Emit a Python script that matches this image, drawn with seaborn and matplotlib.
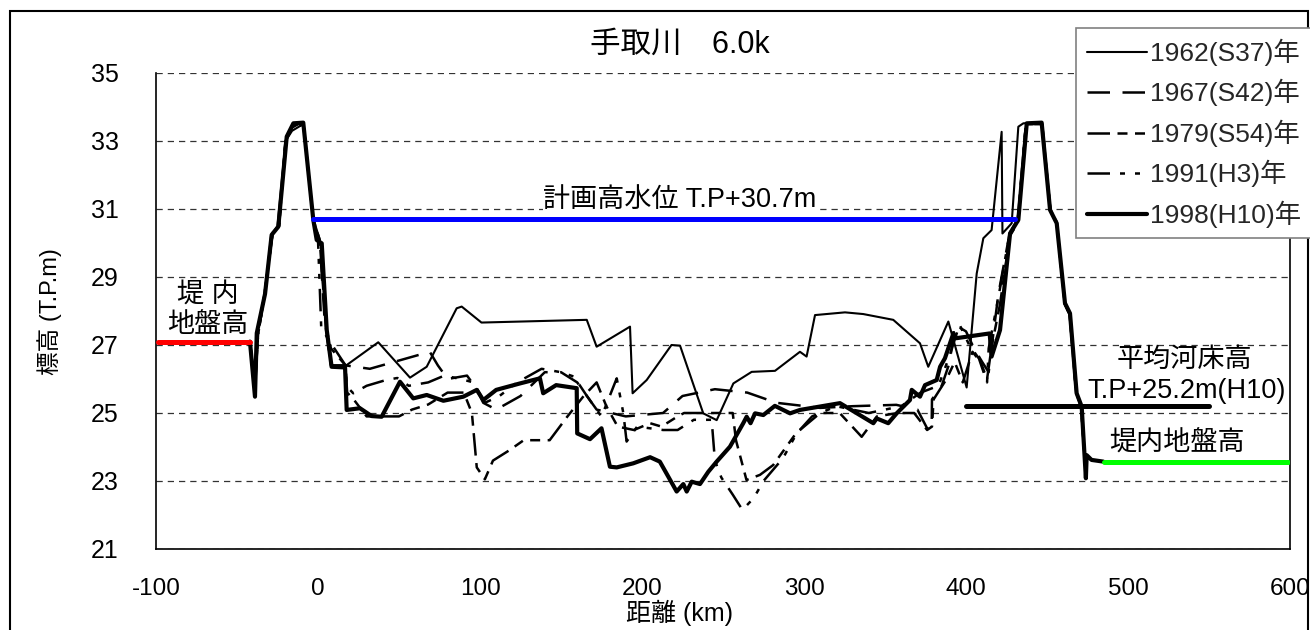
import matplotlib
matplotlib.use('Agg')
import matplotlib.pyplot as plt
import seaborn as sns
import pandas as pd
from matplotlib.patches import Rectangle

# ---------------- data ----------------
title = '手取川　6.0k'
xlabel = '距離 (km)'
ylabel = '標高 (T.P.m)'
x_ticks = [-100, 0, 100, 200, 300, 400, 500, 600]
y_ticks = [21, 23, 25, 27, 29, 31, 33, 35]

labels = ['1962(S37)年', '1967(S42)年', '1979(S54)年', '1991(H3)年', '1998(H10)年']

x_1962 = [-42, -39, -38, -33, -29, -25, -20, -16, -9, -3, 0, 2, 5, 8, 17, 17.7, 37.2, 56.8, 67.1, 85.6,
          88.7, 100.9, 165.9, 172, 192.6, 194.2, 202.9, 218.2, 223.5, 237.8, 246.1, 256.4, 267.7, 282.1,
          297.5, 301.6, 306.8, 325.3, 336.6, 355.1, 371.6, 376.7, 389.1, 400.4, 406.6, 410.7, 415.8, 422,
          422.5, 428.2, 432.3, 435.4, 446.7, 451.9, 456, 461.1, 464.2, 468.3, 471.4, 474]
y_1962 = [27.1, 25.6, 27.3, 28.4, 30.2, 30.5, 33.0, 33.3, 33.5, 30.7, 30.1, 30.0, 27.6, 26.4, 26.4, 26.41,
          27.08, 26.04, 26.36, 28.08, 28.13, 27.66, 27.74, 26.95, 27.54, 25.58, 25.97, 27.0, 26.98, 24.99,
          24.79, 25.87, 26.21, 26.24, 26.80, 26.66, 27.88, 27.96, 27.91, 27.74, 27.05, 26.36, 27.69, 25.75,
          29.1, 30.14, 30.38, 33.27, 30.28, 30.58, 33.42, 33.52, 33.54, 30.97, 30.58, 28.23, 27.93, 25.58,
          25.19, 23.1]

x_1967 = [-42, -39, -37, -33, -28, -24, -20, -17, -13, -9, -3, 1, 4, 8, 17, 32, 69, 74, 80, 92,
          98, 102, 110, 125, 140, 150, 160, 172, 190, 213, 225, 245, 265, 283, 310, 330, 357, 370, 376,
          378.8, 379, 385, 390, 393, 400, 405, 410, 414, 416, 420, 427, 432, 437, 447, 452, 456, 461, 464,
          468, 471, 474]
y_1967 = [27.1, 25.8, 27.3, 28.5, 30.3, 30.5, 33.0, 33.3, 33.4, 33.5, 30.7, 30.1, 27.8, 26.4, 26.4, 26.3,
          26.8, 26.4, 26.0, 26.1, 25.7, 25.3, 25.1, 25.5, 26.2, 26.2, 25.9, 25.1, 24.9, 25.0, 25.5, 25.7,
          25.6, 25.3, 25.15, 25.2, 25.24, 25.1, 24.55, 24.55, 25.4, 25.8, 26.5, 27.6, 27.4, 26.9, 26.5,
          26.2, 27.0, 28.5, 30.3, 30.7, 33.5, 33.5, 31.0, 30.6, 28.2, 27.9, 25.6, 25.2, 23.2]

x_1979 = [-42, -39, -37, -33, -28, -24, -20, -16, -12, -9, -3, 1, 5, 8, 17, 18, 22, 30, 40, 50,
          58, 68, 80, 90, 95, 98, 103, 108, 118, 127, 143, 154, 164, 172, 178, 185, 195, 205, 212, 222,
          226, 256, 258, 264.5, 272.8, 281, 295, 310, 322, 335.6, 345, 358, 368, 376, 379, 380, 388, 393,
          398, 404, 409, 413, 416, 421, 427, 432, 437, 447, 452, 456, 461, 464, 468, 471, 474]
y_1979 = [27.1, 25.7, 27.3, 28.5, 30.3, 30.5, 33.1, 33.4, 33.5, 33.5, 30.7, 30.1, 27.5, 26.9, 26.4, 25.6,
          25.4, 24.9, 24.9, 24.9, 25.1, 25.25, 25.6, 25.6, 25.0, 23.4, 23.05, 23.6, 23.9, 24.2, 24.2, 24.9,
          25.5, 25.9, 25.2, 24.6, 24.5, 24.7, 24.6, 24.9, 25.0, 25.0, 24.2, 23.03, 23.18, 23.47, 24.4, 25.0,
          25.0, 24.3, 24.9, 25.0, 25.0, 24.5, 24.6, 25.4, 26.0, 26.5, 25.9, 26.8, 26.5, 26.0, 27.0, 28.2,
          30.2, 30.6, 33.5, 33.5, 31.0, 30.6, 28.2, 27.9, 25.6, 25.2, 23.2]

x_1991 = [-42, -39, -37, -33, -28, -24, -20, -16, -12, -9, -3, 0, 2, 8, 17, 17.7, 21.8, 30, 42, 49,
          56, 68, 78, 88, 96, 103, 112, 123, 138, 150, 158, 166, 175, 184.4, 188.5, 190.5, 197, 213, 222,
          232, 243, 245, 249, 256, 262, 269, 275, 287, 295.5, 305, 320, 340, 360, 372, 383, 390, 396, 402,
          408, 413, 414, 420, 427, 432, 437, 447, 452, 456, 461, 464, 468, 471, 474]
y_1991 = [27.1, 25.6, 27.3, 28.5, 30.3, 30.5, 33.0, 33.4, 33.5, 33.5, 30.7, 30.1, 27.5, 27.05, 26.4,
          25.78, 25.58, 25.8, 25.97, 26.03, 25.8, 25.9, 26.1, 26.0, 25.9, 25.3, 25.5, 25.9, 26.3, 26.2,
          26.07, 25.5, 24.89, 26.02, 24.99, 24.16, 24.6, 24.5, 24.5, 24.8, 24.8, 23.6, 23.1, 22.6, 22.15,
          22.5, 23.0, 23.67, 24.4, 24.9, 25.2, 25.0, 25.2, 25.6, 25.8, 26.7, 27.6, 27.0, 26.6, 25.9, 26.9,
          28.4, 30.3, 30.7, 33.5, 33.5, 31.0, 30.6, 28.2, 27.9, 25.6, 25.2, 23.2]

x_1998 = [-42, -38.9, -37.8, -32.7, -28.6, -24.5, -19.3, -15.2, -9.1, -2.9, -0.8, 2.3, 5.4, 8.4, 16.7,
          17.7, 25.9, 33.1, 39.3, 50.6, 58.8, 67.1, 77.4, 89.7, 98, 102, 110, 124.7, 137, 139, 147, 159.7,
          160, 167.9, 175, 180.2, 184.4, 194.6, 205, 211, 221.4, 225.5, 227.6, 230.7, 235.8, 240.9, 246.1,
          254.3, 262.5, 264.6, 267, 269.8, 274.9, 282, 291.4, 297.5, 322.2, 342.8, 344.9, 352, 357.2,
          365.4, 366.5, 371.6, 374.7, 381.9, 384, 387, 392.2, 394, 414.6, 415.8, 421, 427.2, 432.3, 437.5,
          446.7, 451.9, 456, 461.1, 464.2, 468.3, 471.4, 474, 474.5, 477.5, 484.8]
y_1998 = [27.1, 25.48, 27.35, 28.5, 30.24, 30.48, 33.13, 33.52, 33.54, 30.68, 30.09, 29.99, 27.44, 26.36,
          26.34, 25.09, 25.14, 24.91, 24.89, 25.92, 25.43, 25.53, 25.36, 25.48, 25.68, 25.38, 25.68, 25.87,
          26.02, 25.58, 25.82, 25.73, 24.40, 24.23, 24.55, 23.42, 23.40, 23.52, 23.70, 23.57, 22.69, 22.91,
          22.69, 22.98, 22.91, 23.27, 23.57, 24.01, 24.70, 24.89, 24.70, 24.99, 24.94, 25.21, 24.99, 25.09,
          25.29, 24.70, 24.84, 24.70, 24.99, 25.38, 25.68, 25.48, 25.82, 25.97, 26.36, 26.61, 27.34, 27.2,
          27.34, 26.66, 27.44, 30.28, 30.68, 33.52, 33.54, 30.97, 30.58, 28.23, 27.93, 25.58, 25.19, 23.08,
          23.76, 23.62, 23.57]

# reference levels
hwl_x = [-3, 430]
hwl_y = [30.7, 30.7]
left_ground_x = [-99, -42]
left_ground_y = [27.1, 27.1]
right_ground_x = [485, 599]
right_ground_y = [23.55, 23.55]
bed_x = [400, 550]
bed_y = [25.2, 25.2]

hwl_label = '計画高水位 T.P+30.7m'
left_ground_label = '堤 内\n地盤高'
bed_label1 = '平均河床高'
bed_label2 = 'T.P+25.2m(H10)'
right_ground_label = '堤内地盤高'

# ---------------- style ----------------
sns.set_theme(style='white')
plt.rcParams['font.family'] = ['Liberation Sans', 'Noto Sans CJK JP', 'DejaVu Sans']
plt.rcParams['axes.unicode_minus'] = False

fig = plt.figure(figsize=(13.1, 6.3), dpi=100)
fig.patch.set_facecolor('white')
ax = fig.add_axes([156/1310, 1-549/630, (1290-156)/1310, (549-73)/630])
ax.set_facecolor('white')

series = [
    (x_1962, y_1962, labels[0], 1.5, '-'),
    (x_1967, y_1967, labels[1], 1.8, (0, (9, 5))),
    (x_1979, y_1979, labels[2], 1.8, (0, (9, 3, 4, 3, 4, 3))),
    (x_1991, y_1991, labels[3], 1.8, (0, (9, 4, 2, 4, 2, 4))),
    (x_1998, y_1998, labels[4], 3.0, '-'),
]

handles = []
for xs, ys, lab, lw, ls in series:
    df = pd.DataFrame({'x': xs, 'y': ys})
    sns.lineplot(data=df, x='x', y='y', sort=False, estimator=None, ax=ax,
                 color='black', linewidth=lw, linestyle=ls, label=lab, zorder=3)
    handles.append(ax.lines[-1])

# reference level lines
sns.lineplot(x=hwl_x, y=hwl_y, ax=ax, color='#0000ff', linewidth=3.6, estimator=None, sort=False, zorder=4)
sns.lineplot(x=left_ground_x, y=left_ground_y, ax=ax, color='#ff0000', linewidth=3.6, estimator=None, sort=False, zorder=4)
sns.lineplot(x=right_ground_x, y=right_ground_y, ax=ax, color='#00ff00', linewidth=3.6, estimator=None, sort=False, zorder=4)
sns.lineplot(x=bed_x, y=bed_y, ax=ax, color='black', linewidth=3.6, estimator=None, sort=False, zorder=4)

if ax.get_legend() is not None:
    ax.get_legend().remove()

ax.set_xlim(-100, 600)
ax.set_ylim(21, 35)
ax.set_xticks(x_ticks)
ax.set_yticks(y_ticks)
ax.set_xticklabels([str(v) for v in x_ticks])
ax.set_yticklabels([str(v) for v in y_ticks])
ax.tick_params(axis='x', direction='in', length=7, width=1, pad=21, labelsize=17.5, colors='black')
ax.tick_params(axis='y', length=0, pad=27, labelsize=18, colors='black')
ax.set_xlabel('')
ax.set_ylabel('')

ax.yaxis.grid(True, linestyle=(0, (5, 4)), color='#333333', linewidth=0.9, zorder=1)
ax.xaxis.grid(False)
ax.set_axisbelow(True)
for side in ['left', 'bottom', 'right']:
    ax.spines[side].set_visible(True)
    ax.spines[side].set_color('black')
    ax.spines[side].set_linewidth(1.2)
ax.spines['top'].set_visible(False)

# annotations
ann_fs = 19.5
ax.text(223.5, 31.27, hwl_label, ha='center', va='center', fontsize=ann_fs, color='black', zorder=5,
        bbox=dict(facecolor='white', edgecolor='none', pad=0.5))
ax.text(-68, 28.02, left_ground_label, ha='center', va='center', fontsize=ann_fs, color='black',
        linespacing=1.15, zorder=5)
ax.text(535, 26.56, bed_label1, ha='center', va='center', fontsize=ann_fs, color='black', zorder=5)
ax.text(536, 25.64, bed_label2, ha='center', va='center', fontsize=ann_fs, color='black', zorder=5)
ax.text(530, 24.12, right_ground_label, ha='center', va='center', fontsize=ann_fs, color='black', zorder=5)

fig.text(680/1310, 1-45/630, title, ha='center', va='center', fontsize=22, color='black')
fig.text(680/1310, 1-613/630, xlabel, ha='center', va='center', fontsize=18, color='black')
fig.text(50/1310, 1-312/630, ylabel, ha='center', va='center', rotation=90, fontsize=17, color='black')

leg = fig.legend(handles, labels, loc='upper left', bbox_to_anchor=(1076/1310, 1-28/630),
                 frameon=True, fancybox=False, edgecolor='#808080', facecolor='white', framealpha=1,
                 fontsize=19, handlelength=2.3, handletextpad=0.12, labelspacing=0.5,
                 borderpad=0.4, borderaxespad=0)
leg.get_frame().set_linewidth(1.2)
leg.set_zorder(10)

fig.patches.append(Rectangle((10/1310, -0.05), (1308-10)/1310, 1.05-11/630, transform=fig.transFigure,
                             fill=False, edgecolor='black', linewidth=1.5))

fig.savefig('out.png', dpi=100, facecolor='white')
